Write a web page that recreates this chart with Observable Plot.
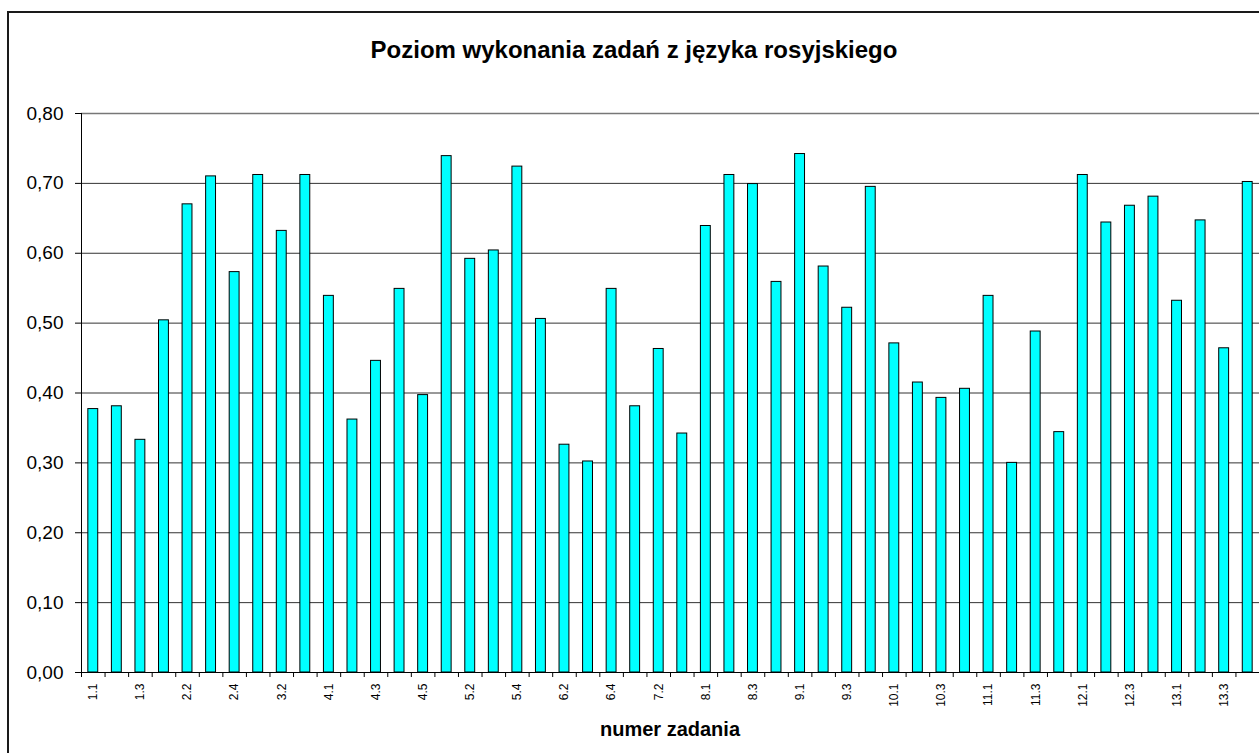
<!DOCTYPE html>
<html>
<head>
<meta charset="utf-8">
<script src="https://cdn.jsdelivr.net/npm/d3@7"></script>
<script src="https://cdn.jsdelivr.net/npm/@observablehq/plot@0.6"></script>
<style>
  html, body { margin: 0; padding: 0; background: #fff; overflow: hidden; }
  #page { position: relative; width: 1259px; height: 753px; overflow: hidden; font-family: "Liberation Sans", Arial, sans-serif; background: #fff; }
  #frameTop { position: absolute; left: 7px; top: 11px; width: 1252px; height: 2px; background: #1a1a1a; }
  #frameLeft { position: absolute; left: 7px; top: 11px; width: 2px; height: 742px; background: #1a1a1a; }
  #title { position: absolute; left: 634px; top: 38px; transform: translateX(-50%); font-size: 24px; line-height: 24px; font-weight: bold; white-space: nowrap; color: #000; }
  #xlabel { position: absolute; left: 670px; top: 719px; transform: translateX(-50%); font-size: 20px; line-height: 20px; font-weight: bold; white-space: nowrap; color: #000; }
  #chart { position: absolute; left: 0; top: 90px; }
</style>
</head>
<body>
<div id="page">
<div id="frameTop"></div>
<div id="frameLeft"></div>
<div id="title">Poziom wykonania zadań z języka rosyjskiego</div>
<div id="chart"></div>
<div id="xlabel">numer zadania</div>
</div>
<script>
const categories = ["1.1","1.2","1.3","2.1","2.2","2.3","2.4","3.1","3.2","3.3","4.1","4.2","4.3","4.4","4.5","5.1","5.2","5.3","5.4","6.1","6.2","6.3","6.4","7.1","7.2","7.3","8.1","8.2","8.3","8.4","9.1","9.2","9.3","9.4","10.1","10.2","10.3","10.4","11.1","11.2","11.3","11.4","12.1","12.2","12.3","12.4","13.1","13.2","13.3","13.4"];
const values = [0.377,0.381,0.333,0.504,0.670,0.710,0.573,0.712,0.632,0.712,0.539,0.362,0.446,0.549,0.397,0.739,0.592,0.604,0.724,0.506,0.326,0.302,0.549,0.381,0.463,0.342,0.639,0.712,0.699,0.559,0.742,0.581,0.522,0.695,0.471,0.415,0.393,0.406,0.539,0.300,0.488,0.344,0.712,0.644,0.668,0.681,0.532,0.647,0.464,0.702];
const xTickLabels = ["1.1","1.3","2.2","2.4","3.2","4.1","4.3","4.5","5.2","5.4","6.2","6.4","7.2","8.1","8.3","9.1","9.3","10.1","10.3","11.1","11.3","12.1","12.3","13.1","13.3"];
const yTicks = [0, 0.1, 0.2, 0.3, 0.4, 0.5, 0.6, 0.7, 0.8];

const data = categories.map((k, i) => ({k, v: values[i]}));

const W = 1259, H = 663, mL = 81, mR = 0, mT = 23, mB = 81;
const step = (W - mL - mR) / categories.length;
const fmt = d => d3.format(".2f")(d).replace(".", ",");
const yMax = yTicks[yTicks.length - 1];

const chart = Plot.plot({
  width: W, height: H,
  marginLeft: mL, marginRight: mR, marginTop: mT, marginBottom: mB,
  style: {fontFamily: "'Liberation Sans', Arial, sans-serif", background: "transparent", color: "#000"},
  x: {domain: categories, paddingInner: 0.58, paddingOuter: 0.29, align: 0.5, round: false, label: null},
  y: {domain: [0, yMax], label: null},
  marks: [
    Plot.gridY(yTicks.filter(d => d < yMax), {stroke: "#333", strokeOpacity: 1, strokeWidth: 1}),
    Plot.gridY([yMax], {stroke: "#777", strokeOpacity: 1, strokeWidth: 1.5}),
    Plot.barY(data, {x: "k", y: "v", fill: "#00FFFF", stroke: "#000", strokeWidth: 1}),
    Plot.ruleY([0], {stroke: "#000", strokeWidth: 1}),
    Plot.ruleX([categories[0]], {dx: -step / 2, stroke: "#000", strokeWidth: 1}),
    Plot.axisY(yTicks, {tickSize: 6, tickPadding: 12, tickFormat: fmt, fontSize: 19, stroke: "#000", fill: "#000"}),
    Plot.axisX(categories, {tickSize: 5, tickFormat: () => "", dx: -step / 2, stroke: "#000"}),
    Plot.axisX([categories[categories.length - 1]], {tickSize: 5, tickFormat: () => "", dx: step / 2, stroke: "#000"}),
    Plot.axisX(xTickLabels, {tickSize: 0, tickPadding: 11, tickRotate: -90, fontSize: 12, fill: "#000"})
  ]
});
document.getElementById("chart").appendChild(chart);
</script>
</body>
</html>
